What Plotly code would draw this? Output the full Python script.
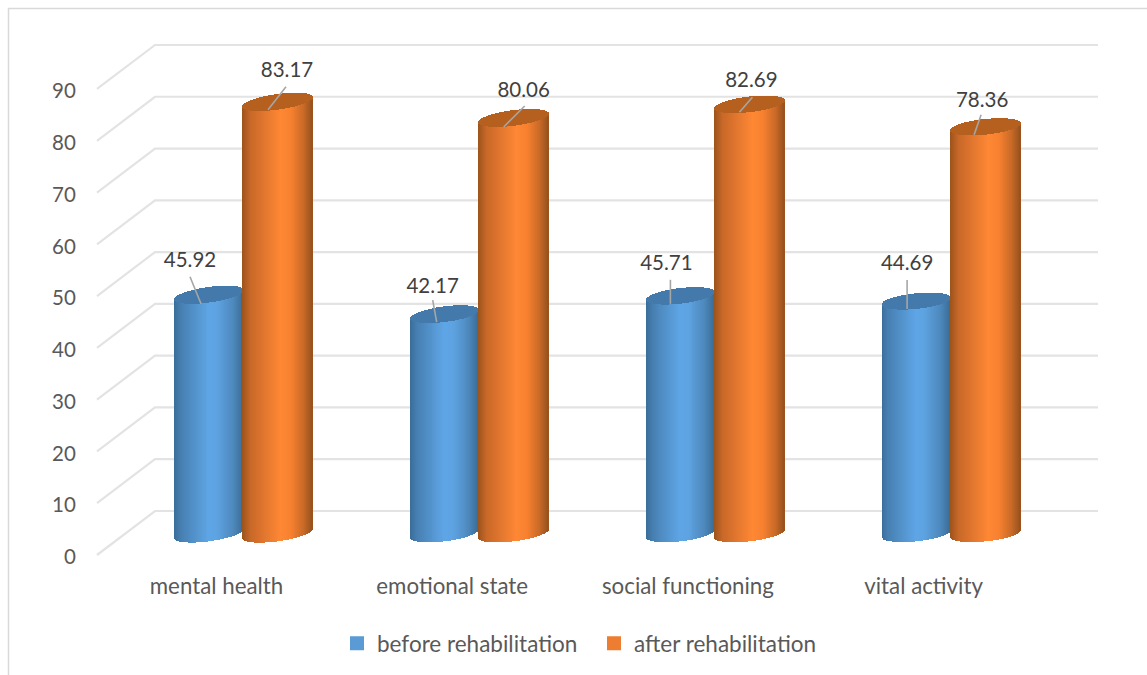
import numpy as np
import plotly.graph_objects as go

categories = ["mental health", "emotional state", "social functioning", "vital activity"]
before_rehabilitation = [45.92, 42.17, 45.71, 44.69]
after_rehabilitation = [83.17, 80.06, 82.69, 78.36]
value_ticks = [0, 10, 20, 30, 40, 50, 60, 70, 80, 90]

# Page geometry of the plotting area and the pseudo-3D projection
WIDTH, HEIGHT = 1147, 675
LEFT, RIGHT, TOP, BOTTOM = 90, 1105, 30, 562
ZERO_PX, PX_PER_UNIT = 555.0, 5.178
FIRST_GROUP_PX, GROUP_PX = 243.0, 235.7
WALL_FRONT_PX, WALL_BACK_PX, WALL_END_PX = 97.0, 155.0, 1098.0
WALL_DEPTH = 44.0 / PX_PER_UNIT
FLOOR_LIFT = 22.5 / PX_PER_UNIT
BASE_LIFT = 21.5 / PX_PER_UNIT


def xdata(px):
    return (px - FIRST_GROUP_PX) / GROUP_PX


def ydata(px):
    return (ZERO_PX - px) / PX_PER_UNIT


# Cylinder shading: stops run across the body from left to right
BLUE_STOPS = [(0, "#3a6d9a"), (0.1, "#4780b2"), (0.5, "#5fa6e6"), (0.62, "#5ea4e3"), (0.86, "#4e89bd"), (1, "#3c6c97")]
ORANGE_STOPS = [(0, "#9c541c"), (0.12, "#c86829"), (0.55, "#ff8835"), (0.7, "#f7812f"), (0.88, "#c96a28"), (1, "#98521e")]
BLUE_CAP, ORANGE_CAP = "#437aab", "#b6601f"
BLUE_SWATCH, ORANGE_SWATCH = "#5b9bd5", "#ed7d31"
TILT_BY_GROUP = [0.135, 0.125, 0.115, 0.1]
BLUE_HALF_PX, ORANGE_HALF_PX = 34.0, 35.0
CAP_MINOR_PX = 7.8
STRIPS = 70


def shade(stops, t):
    pos = [s[0] for s in stops]
    rgb = [[int(s[1][i:i + 2], 16) for s in stops] for i in (1, 3, 5)]
    return "rgb(%d,%d,%d)" % tuple(np.interp(t, pos, channel) for channel in rgb)


def cylinder(center_px, half_px, value, tilt, stops, cap):
    """Body and cap of one cylinder, built as narrow bars on the value axis."""
    edges = np.linspace(-half_px, half_px, STRIPS + 1)
    mid = (edges[:-1] + edges[1:]) / 2
    arc = CAP_MINOR_PX * np.sqrt(1 - (mid / half_px) ** 2)
    slant = tilt * mid
    x = xdata(center_px + mid)
    bar_width = (edges[1] - edges[0]) * 1.12 / GROUP_PX
    t = (mid + half_px) / (2 * half_px)

    floor = BASE_LIFT + (slant - arc) / PX_PER_UNIT
    top = FLOOR_LIFT + value + slant / PX_PER_UNIT
    body = go.Bar(
        x=x, y=top - floor, base=floor, width=bar_width,
        marker=dict(color=[shade(stops, v) for v in t], line=dict(width=0)),
        showlegend=False, hoverinfo="skip",
    )
    cap_low = top - arc / PX_PER_UNIT
    cap_high = top + arc / PX_PER_UNIT
    lid = go.Bar(
        x=x, y=cap_high - cap_low, base=cap_low, width=bar_width,
        marker=dict(color=cap, line=dict(width=0)),
        showlegend=False, hoverinfo="skip",
    )
    return [body, lid]


fig = go.Figure()

for i in range(len(categories)):
    join_px = FIRST_GROUP_PX + GROUP_PX * i
    fig.add_traces(cylinder(join_px - BLUE_HALF_PX, BLUE_HALF_PX, before_rehabilitation[i],
                            TILT_BY_GROUP[i], BLUE_STOPS, BLUE_CAP))
for i in range(len(categories)):
    join_px = FIRST_GROUP_PX + GROUP_PX * i
    fig.add_traces(cylinder(join_px + ORANGE_HALF_PX, ORANGE_HALF_PX, after_rehabilitation[i],
                            TILT_BY_GROUP[i], ORANGE_STOPS, ORANGE_CAP))

# Legend entries
for name, color in (("before rehabilitation", BLUE_SWATCH), ("after rehabilitation", ORANGE_SWATCH)):
    fig.add_trace(go.Bar(x=[None], y=[None], name=name,
                         marker=dict(color=color, line=dict(color=color, width=2)), hoverinfo="skip"))

# Leader and text placement around each cylinder, in pixels from the cap centre
LABEL_OFFSETS = [
    [(-19.0, -33.0), (-12.0, -26.0), (-14.0, -31.0), (-9.0, -36.0)],
    [(9.0, -30.0), (10.0, -26.0), (2.0, -22.0), (-3.0, -25.0)],
]
TIP_OFFSETS = [
    [(-8.0, 9.0), (-8.0, 8.0), (-10.0, 8.0), (-9.0, 8.0)],
    [(-10.0, 8.0), (-10.0, 9.0), (-10.0, 8.0), (-11.0, 8.0)],
]
TAIL_OFFSETS = [
    [(-19.0, -18.0), (-12.0, -14.0), (-10.0, -16.0), (-9.0, -21.0)],
    [(8.0, -15.0), (11.0, -12.0), (3.0, -7.0), (-4.0, -12.0)],
]
LEADER = "#a6a6a6"
LABEL_TEXT = "#404040"
AXIS_TEXT = "#595959"
GRID = "#e3e3e3"

for s, values in enumerate((before_rehabilitation, after_rehabilitation)):
    offset = -BLUE_HALF_PX if s == 0 else ORANGE_HALF_PX
    for i, value in enumerate(values):
        cx_px = FIRST_GROUP_PX + GROUP_PX * i + offset
        centre = value + FLOOR_LIFT
        tip = TIP_OFFSETS[s][i]
        tail = TAIL_OFFSETS[s][i]
        label = LABEL_OFFSETS[s][i]
        fig.add_trace(go.Scatter(
            x=[xdata(cx_px + tail[0]), xdata(cx_px + tip[0])],
            y=[centre - tail[1] / PX_PER_UNIT, centre - tip[1] / PX_PER_UNIT],
            mode="lines", line=dict(color=LEADER, width=1.6),
            showlegend=False, hoverinfo="skip",
        ))
        fig.add_trace(go.Scatter(
            x=[xdata(cx_px + label[0])], y=[centre - label[1] / PX_PER_UNIT],
            mode="text", text=[f"{value:.2f}"], textposition="middle center",
            textfont=dict(family="Lato", size=20.5, color=LABEL_TEXT),
            showlegend=False, hoverinfo="skip",
        ))

# Gridlines fold from the front edge of the floor onto the back wall
shapes = []
for v in value_ticks:
    shapes.append(dict(
        type="path", xref="x", yref="y", layer="below",
        path=f"M {xdata(WALL_FRONT_PX)},{v} L {xdata(WALL_BACK_PX)},{v + WALL_DEPTH} L {xdata(WALL_END_PX)},{v + WALL_DEPTH}",
        line=dict(color=GRID, width=2.2),
    ))

# Chart area border: only its top and left edges fall on the page.
# Margins are zero, so paper coordinates are plain page fractions.
frame_x = 8.5 / WIDTH
frame_y = 1 - 8.5 / HEIGHT
shapes.append(dict(
    type="path", xref="paper", yref="paper", layer="below",
    path=f"M {frame_x},0 L {frame_x},{frame_y} L 1,{frame_y}",
    line=dict(color="#d9d9d9", width=1.5),
))

fig.update_layout(
    width=WIDTH, height=HEIGHT, autosize=False,
    margin=dict(l=0, r=0, t=0, b=0, pad=0),
    paper_bgcolor="white", plot_bgcolor="white",
    barmode="overlay", bargap=0,
    shapes=shapes,
    xaxis=dict(
        automargin=False,
        domain=[LEFT / WIDTH, RIGHT / WIDTH],
        range=[xdata(LEFT), xdata(RIGHT)], showgrid=False, zeroline=False, showline=False,
        tickmode="array", tickvals=[xdata(216.5 + GROUP_PX * i) for i in range(len(categories))],
        ticktext=categories, ticks="outside", ticklen=4, tickcolor="rgba(0,0,0,0)",
        tickfont=dict(family="Lato", size=22.3, color=AXIS_TEXT),
    ),
    yaxis=dict(
        automargin=False,
        domain=[1 - BOTTOM / HEIGHT, 1 - TOP / HEIGHT],
        range=[ydata(BOTTOM), ydata(TOP)], showgrid=False, zeroline=False, showline=False,
        tickmode="array", tickvals=value_ticks, ticks="outside", ticklen=9,
        tickcolor="rgba(0,0,0,0)", ticklabelshift=2,
        tickfont=dict(family="Lato", size=20.5, color=AXIS_TEXT),
    ),
    # Anchored at its bottom edge so the legend never claims extra margin
    legend=dict(
        orientation="h", xref="paper", yref="paper", xanchor="left", yanchor="bottom",
        x=337 / WIDTH, y=1 - 665 / HEIGHT,
        font=dict(family="Lato", size=22.5, color=AXIS_TEXT),
        entrywidth=212, entrywidthmode="pixels", bgcolor="rgba(0,0,0,0)",
    ),
)

fig.write_html("out.html")
